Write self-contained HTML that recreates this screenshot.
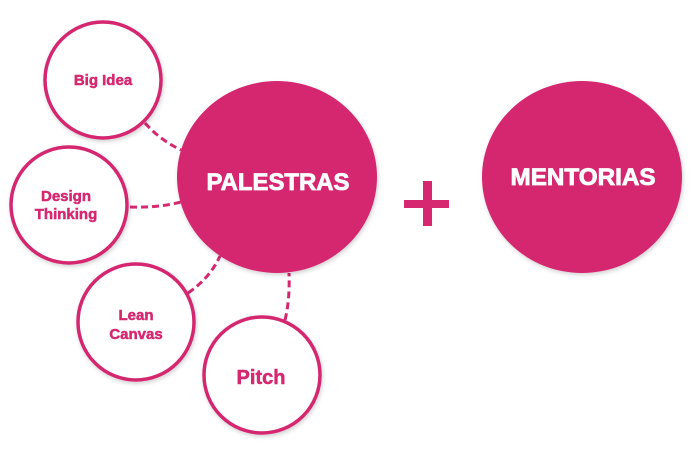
<!DOCTYPE html>
<html><head><style>
html,body{margin:0;padding:0;background:#fff;width:694px;height:454px;overflow:hidden}
svg{display:block}
text{font-family:"Liberation Sans",sans-serif;font-weight:bold;text-anchor:middle}
</style></head><body>
<svg width="694" height="454" viewBox="0 0 694 454">
<defs>
<filter id="sh" x="-20%" y="-20%" width="140%" height="140%"><feDropShadow dx="1" dy="2" stdDeviation="2" flood-color="#000" flood-opacity="0.18"/></filter>
</defs>
<g fill="none" stroke="#d52870" stroke-width="3" stroke-dasharray="7,4">
<path d="M145 123 Q160 140 181 150"/>
<path d="M130 207 Q158 208 181 202"/>
<path d="M188 293 Q210 278 220 256"/>
<path d="M285 320 Q290 300 289 273"/>
</g>
<g fill="#fff" stroke="#d52870" stroke-width="3.5" filter="url(#sh)">
<circle cx="103" cy="80" r="58"/>
<circle cx="69" cy="205" r="58"/>
<circle cx="136" cy="322" r="58"/>
<circle cx="262" cy="375" r="58"/>
</g>
<g fill="#d52870" filter="url(#sh)">
<ellipse cx="277" cy="177" rx="100" ry="96"/>
<ellipse cx="582" cy="177" rx="100" ry="96"/>
</g>
<rect x="404" y="200" width="45" height="8" fill="#d52870"/>
<rect x="423" y="181" width="9" height="45" fill="#d52870"/>
<g fill="#d52870" stroke="#d52870" stroke-width="0.5" font-size="15">
<text x="103" y="85">Big Idea</text>
<text x="66" y="201">Design</text>
<text x="66" y="219">Thinking</text>
<text x="136" y="320">Lean</text>
<text x="136" y="339">Canvas</text>
<text x="261" y="384" font-size="20">Pitch</text>
</g>
<g fill="#fff" stroke="#fff" stroke-width="0.8" font-size="24">
<text x="278" y="190" textLength="143" lengthAdjust="spacingAndGlyphs">PALESTRAS</text>
<text x="583" y="185" textLength="145" lengthAdjust="spacingAndGlyphs">MENTORIAS</text>
</g>
</svg>
</body></html>
